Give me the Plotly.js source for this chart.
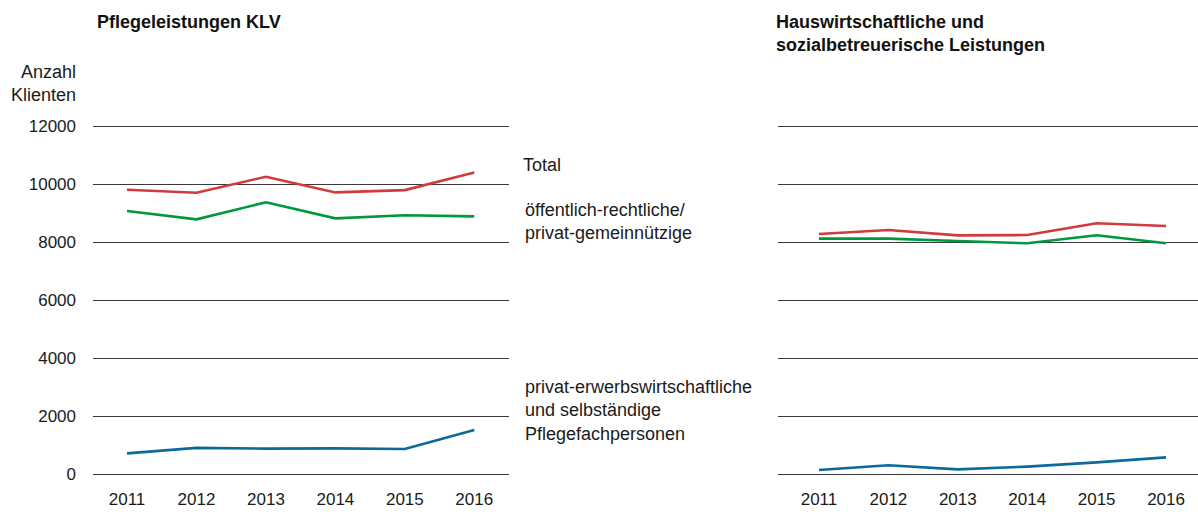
<!DOCTYPE html>
<html><head><meta charset="utf-8">
<script src="https://cdn.plot.ly/plotly-3.0.1.min.js"></script>
<style>body{margin:0;background:#fff}#c{width:1198px;height:514px}</style>
</head><body><div id="c"></div>
<script>
const years = ['2011','2012','2013','2014','2015','2016'];
const yTicks = [0,2000,4000,6000,8000,10000,12000];
// Pflegeleistungen KLV
const klvTotal = [9800, 9700, 10250, 9710, 9790, 10400];
const klvOeff = [9070, 8780, 9370, 8815, 8920, 8885];
const klvPriv = [710, 900, 875, 885, 860, 1520];
// Hauswirtschaftliche und sozialbetreuerische Leistungen
const hwTotal = [8275, 8415, 8230, 8240, 8645, 8550];
const hwOeff = [8115, 8115, 8035, 7955, 8230, 7955];
const hwPriv = [140, 300, 160, 255, 400, 575];

const cRed = '#d13b3b', cGreen = '#00983d', cBlue = '#0b6a9b';
const font = 'Liberation Sans, Arial, Helvetica, sans-serif';
const xi = years.map((_, i) => i);
function tr(y, col, xa, ya) {
  return {x: xi, y: y, xaxis: xa, yaxis: ya, type: 'scatter', mode: 'lines',
    line: {color: col, width: 2.6}, hoverinfo: 'skip', showlegend: false};
}
const data = [
  tr(klvTotal, cRed, 'x', 'y'), tr(klvOeff, cGreen, 'x', 'y'), tr(klvPriv, cBlue, 'x', 'y'),
  tr(hwTotal, cRed, 'x2', 'y2'), tr(hwOeff, cGreen, 'x2', 'y2'), tr(hwPriv, cBlue, 'x2', 'y2')
];
// pad range slightly so the 0 and 12000 gridlines are drawn
const pad = 40, pxPad = pad * 348 / 12000;
const yDom = [(40 - pxPad)/514, (388 + pxPad)/514];
const xBase = {tickmode: 'array', tickvals: xi, ticktext: years, showgrid: false, zeroline: false,
  showline: false, ticks: '', ticklabelstandoff: 12,
  tickfont: {size: 17, color: '#1a1a1a', family: font}, fixedrange: true};
const yBase = {range: [-pad, 12000 + pad], tickmode: 'array', tickvals: yTicks, showgrid: true,
  gridcolor: '#3a3a3a', gridwidth: 1, zeroline: false, showline: false, ticks: '',
  tickfont: {size: 17, color: '#1a1a1a', family: font}, fixedrange: true};
const txt = {size: 18, color: '#1a1a1a'};
const layout = {
  width: 1198, height: 514, margin: {l: 0, r: 0, t: 0, b: 0},
  paper_bgcolor: '#fff', plot_bgcolor: '#fff', font: {family: font, color: '#1a1a1a'},
  xaxis: Object.assign({}, xBase, {domain: [93/1198, 509/1198], range: [-0.49, 5.5], anchor: 'y'}),
  yaxis: Object.assign({}, yBase, {domain: yDom, anchor: 'x', ticklabelstandoff: 16, tickformat: 'd'}),
  xaxis2: Object.assign({}, xBase, {domain: [778/1198, 1], range: [-0.59, 5.46], anchor: 'y2'}),
  yaxis2: Object.assign({}, yBase, {domain: yDom, anchor: 'x2', showticklabels: false}),
  annotations: [
    {text: '<b>Pflegeleistungen KLV</b>', xref: 'paper', yref: 'paper', x: 95/1198, y: 1 - 10/514,
     xanchor: 'left', yanchor: 'top', showarrow: false, font: {size: 18, color: '#111'}},
    {text: '<b>Hauswirtschaftliche und<br>sozialbetreuerische Leistungen</b>', xref: 'paper', yref: 'paper',
     x: 774/1198, y: 1 - 10/514, xanchor: 'left', yanchor: 'top', showarrow: false, align: 'left',
     font: {size: 18, color: '#111'}},
    {text: 'Anzahl<br>Klienten', xref: 'paper', yref: 'paper', x: 78/1198, y: 1 - 60/514,
     xanchor: 'right', yanchor: 'top', showarrow: false, align: 'right', font: txt},
    {text: 'Total', xref: 'paper', yref: 'paper', x: 521/1198, y: 1 - 153/514,
     xanchor: 'left', yanchor: 'top', showarrow: false, align: 'left', font: txt},
    {text: 'öffentlich-rechtliche/<br>privat-gemeinnützige', xref: 'paper', yref: 'paper', x: 523/1198, y: 1 - 198/514,
     xanchor: 'left', yanchor: 'top', showarrow: false, align: 'left', font: txt},
    {text: 'privat-erwerbswirtschaftliche<br>und selbständige<br>Pflegefachpersonen', xref: 'paper', yref: 'paper',
     x: 523/1198, y: 1 - 375/514, xanchor: 'left', yanchor: 'top', showarrow: false, align: 'left', font: txt}
  ]
};
Plotly.newPlot('c', data, layout, {staticPlot: true, displayModeBar: false});
</script></body></html>
